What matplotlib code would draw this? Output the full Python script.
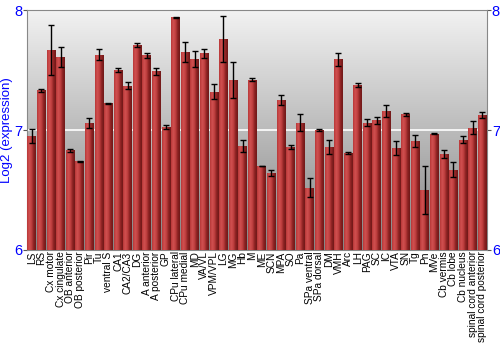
import numpy as np
import matplotlib
matplotlib.use('Agg')
import matplotlib.pyplot as plt
from matplotlib.colors import LinearSegmentedColormap

plt.rcParams['font.family'] = ['Liberation Sans', 'DejaVu Sans']

regions = ['LS', 'RS', 'Cx motor', 'Cx cingulate', 'OB anterior', 'OB posterior', 'Pir', 'Tu',
           'ventral S', 'CA1', 'CA2/CA3', 'DG', 'A anterior', 'A posterior', 'GP', 'CPu lateral',
           'CPu medial', 'MD', 'VA/VL', 'VPM/VPL', 'LG', 'MG', 'Hb', 'M', 'ME', 'SCN', 'MPA', 'SO',
           'Pa', 'SPa ventral', 'SPa dorsal', 'DM', 'VMH', 'Arc', 'LH', 'PAG', 'SC', 'IC', 'VTA',
           'SN', 'Tg', 'Pn', 'MVe', 'Cb vermis', 'Cb lobe', 'Cb nucleus', 'spinal cord anterior',
           'spinal cord posterior']
expression = [6.95, 7.33, 7.67, 7.61, 6.83, 6.74, 7.06, 7.63,
              7.225, 7.50, 7.37, 7.71, 7.625, 7.49, 7.025, 7.94,
              7.65, 7.59, 7.64, 7.32, 7.76, 7.42, 6.87, 7.42, 6.70, 6.64, 7.25, 6.86,
              7.06, 6.52, 7.00, 6.86, 7.59, 6.81, 7.375, 7.06, 7.08, 7.16, 6.85,
              7.13, 6.91, 6.50, 6.97, 6.80, 6.67, 6.92, 7.02,
              7.125]
errors = [0.057, 0.01, 0.21, 0.083, 0.01, 0.004, 0.042, 0.05,
          0.004, 0.015, 0.03, 0.015, 0.02, 0.03, 0.015, 0.004,
          0.083, 0.067, 0.036, 0.064, 0.19, 0.15, 0.05, 0.015, 0.004, 0.025, 0.045, 0.015,
          0.07, 0.078, 0.01, 0.058, 0.055, 0.01, 0.02, 0.03, 0.03, 0.05, 0.057,
          0.015, 0.05, 0.2, 0.004, 0.037, 0.064, 0.03, 0.053,
          0.025]
y_ticks = [6, 7, 8]

blue = '#0000ff'
bar_cmap = LinearSegmentedColormap.from_list('bar', ['#b83838', '#d05050', '#c04040', '#8c2222', '#701818'])
bg_cmap = LinearSegmentedColormap.from_list('bg', ['#848484', '#f2f2f2'])

fig = plt.figure(figsize=(5, 3.5), dpi=100)
ax = fig.add_axes([0.054, 0.286, 0.92, 0.685])

x = np.arange(len(regions))
ax.set_xlim(-0.5, len(regions) - 0.5)
ax.set_ylim(6, 8)

# background gradient
ax.imshow(np.linspace(0, 1, 256).reshape(-1, 1), cmap=bg_cmap, origin='lower',
          extent=(-0.5, len(regions) - 0.5, 6, 8), aspect='auto', zorder=0)
ax.axhline(7, color='white', linewidth=1.2, zorder=1)

bars = ax.bar(x, [v - 6 for v in expression], bottom=6, width=0.9,
              color='#a83030', edgecolor='none', zorder=2)
grad = np.linspace(0, 1, 64).reshape(1, -1)
for b in bars:
    x0, y0 = b.get_x(), b.get_y()
    im = ax.imshow(grad, cmap=bar_cmap, extent=(x0, x0 + b.get_width(), y0, y0 + b.get_height()),
                   aspect='auto', zorder=3)
    im.set_clip_path(b)

ax.errorbar(x, expression, yerr=errors, fmt='none', ecolor='black', elinewidth=1,
            capsize=2.5, capthick=1, zorder=4)

ax.set_xticks(x)
ax.set_xticklabels(regions, rotation=90, fontsize=7.3)
ax.tick_params(axis='x', length=0, pad=1)
ax.set_yticks(y_ticks)
ax.tick_params(axis='y', labelsize=10.5, length=3, pad=0.5, color='#555555',
               left=True, right=True, labelleft=True, labelright=True)
for t in ax.yaxis.get_major_ticks():
    t.label1.set_color(blue)
    t.label2.set_color(blue)
ax.set_ylabel('Log2 (expression)', color=blue, fontsize=9.5)
ax.yaxis.set_label_coords(-0.031, 0.5)
for s in ax.spines.values():
    s.set_color('#888888')

fig.savefig('out.png', dpi=100)
